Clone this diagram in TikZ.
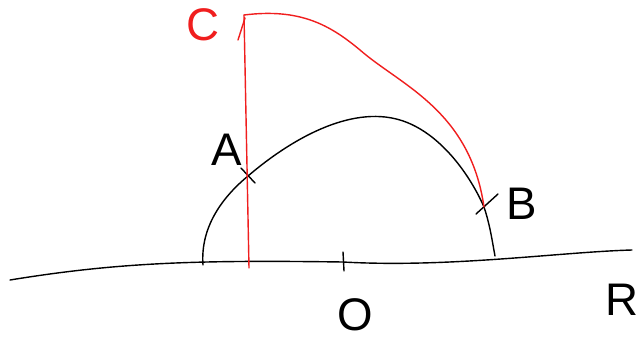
\documentclass[tikz,border=0pt]{standalone}
\usepackage{fontspec}
\setsansfont{Liberation Sans}
\usepackage{tikz}
\usetikzlibrary{positioning}

\definecolor{penred}{RGB}{240,30,30}

\begin{document}
\begin{tikzpicture}[x=0.02cm, y=-0.02cm, line width=0.8pt,
    every node/.style={font=\sffamily\fontsize{26}{28}\selectfont},
    pen/.style={black, line cap=round, line join=round},
    redpen/.style={penred, line cap=round, line join=round}]
    \useasboundingbox (0,0) rectangle (641,338);

    % points of the sketch
    \coordinate (left) at (10,280);
    \coordinate (right) at (632,250);
    \coordinate (foot) at (203,265);
    \coordinate (ptA) at (248,176);
    \coordinate (ptB) at (484,207);
    \coordinate (end) at (495,256);
    \coordinate (ptC) at (244,15);
    \coordinate (base) at (249,268);
    \coordinate (ptO) at (343,262);

    % the line R
    \draw[pen] (left) .. controls (120,262) and (200,260) .. (ptO)
        .. controls (450,268) and (560,252) .. (right);
    \draw[pen] (343,252) -- (344,271);

    % the arc A B
    \draw[pen] (foot) .. controls (200,225) and (225,195) .. (ptA)
        .. controls (290,140) and (350,105) .. (400,120)
        .. controls (440,132) and (470,175) .. (ptB)
        .. controls (490,225) and (492,240) .. (end);
    \draw[pen] (241,168) -- (255,183);
    \draw[pen] (476,214) -- (498,194);

    % red line and curve to C
    \draw[redpen] (base) -- (ptC);
    \draw[redpen] (238,40) -- (245,18);
    \draw[redpen] (ptC) .. controls (300,8) and (330,25) .. (360,50)
        .. controls (400,85) and (470,110) .. (ptB);

    % labels
    \node[penred] (labC) at (203,25) {C};
    \node (labA) at (227,150) {A};
    \node (labB) at (522,204) {B};
    \node (labO) at (355,315) {O};
    \node (labR) at (622,300) {R};
\end{tikzpicture}
\end{document}
